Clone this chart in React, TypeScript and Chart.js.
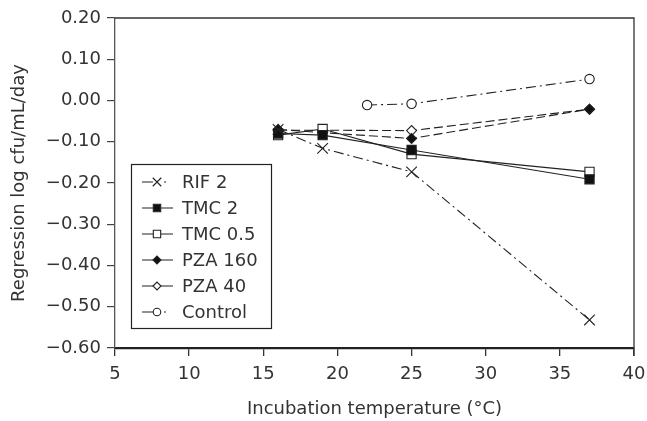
import React, { useEffect, useRef } from "react";
import { Chart, registerables } from "chart.js";
import { drawPoint } from "chart.js/helpers";

Chart.register(...registerables);

const temperatures = [16, 19, 25, 37];
const controlTemperatures = [22, 25, 37];
const rif2 = [-0.07, -0.116, -0.173, -0.532];
const tmc2 = [-0.08, -0.084, -0.12, -0.191];
const tmc05 = [-0.084, -0.069, -0.13, -0.173];
const pza160 = [-0.07, -0.078, -0.092, -0.021];
const pza40 = [-0.072, -0.072, -0.073, -0.021];
const control = [-0.011, -0.008, 0.052];

const seriesLabels = ["RIF 2", "TMC 2", "TMC 0.5", "PZA 160", "PZA 40", "Control"];
const xTicks = { min: 5, max: 40, step: 5 };
const yTicks = { min: -0.6, max: 0.2, step: 0.1 };
const xTitle = "Incubation temperature (°C)";
const yTitle = "Regression log cfu/mL/day";

const FONT = "'DejaVu Sans', 'Noto Sans', sans-serif";
const FS = 18;
const TEXT = "#333";
const DASH_DOT = [10, 4, 2, 4];
const DASHED = [9, 4];

function pts(xs: number[], ys: number[]) {
  return xs.map((x, i) => ({ x, y: ys[i] }));
}

const legendPlugin = {
  id: "boxLegend",
  afterDraw(chart: any) {
    const ctx = chart.ctx;
    const x0 = 131, y0 = 164, w = 140, h = 164;
    ctx.save();
    ctx.fillStyle = "#fff";
    ctx.fillRect(x0, y0, w, h);
    ctx.strokeStyle = "#222";
    ctx.lineWidth = 1.2;
    ctx.setLineDash([]);
    ctx.strokeRect(x0 + 0.5, y0 + 0.5, w, h);
    chart.data.datasets.forEach((ds: any, i: number) => {
      const y = 182 + i * 26;
      const dashDot = (ds.borderDash || []).length === 4;
      ctx.save();
      ctx.strokeStyle = "#222";
      ctx.lineWidth = 1.1;
      ctx.setLineDash([]);
      ctx.beginPath();
      ctx.moveTo(142, y);
      ctx.lineTo(153, y);
      if (dashDot) {
        ctx.moveTo(164, y);
        ctx.lineTo(166, y);
      } else {
        ctx.moveTo(161, y);
        ctx.lineTo(173, y);
      }
      ctx.stroke();
      ctx.fillStyle = ds.pointBackgroundColor;
      ctx.strokeStyle = "#222";
      ctx.lineWidth = 1.1;
      drawPoint(ctx, { pointStyle: ds.pointStyle, radius: ds.pointRadius * 0.8, borderWidth: 1.1, rotation: 0 } as any, 157, y);
      ctx.restore();
      ctx.fillStyle = TEXT;
      ctx.font = `${FS}px ${FONT}`;
      ctx.textBaseline = "middle";
      ctx.textAlign = "left";
      ctx.fillText(ds.label, 182, y + 1);
    });
    ctx.restore();
  },
};

const framePlugin = {
  id: "frame",
  afterDraw(chart: any) {
    const { ctx, chartArea } = chart;
    ctx.save();
    ctx.strokeStyle = "#333";
    ctx.lineWidth = 1.3;
    ctx.setLineDash([]);
    ctx.beginPath();
    ctx.moveTo(chartArea.left, chartArea.top);
    ctx.lineTo(chartArea.right, chartArea.top);
    ctx.lineTo(chartArea.right, chartArea.bottom + 8);
    ctx.stroke();
    ctx.restore();
  },
};

export default function App() {
  const ref = useRef<HTMLCanvasElement | null>(null);
  useEffect(() => {
    if (!ref.current) return;
    const common = {
      borderColor: "#222",
      borderWidth: 1.1,
      pointBorderColor: "#222",
      pointBorderWidth: 1.1,
      showLine: true,
      fill: false,
      tension: 0,
    };
    const chart = new Chart(ref.current, {
      type: "scatter",
      data: {
        datasets: [
          { ...common, label: seriesLabels[0], data: pts(temperatures, rif2), borderDash: DASH_DOT, pointStyle: "crossRot", pointRadius: 7.5, pointBackgroundColor: "#fff" },
          { ...common, label: seriesLabels[1], data: pts(temperatures, tmc2), borderDash: [], pointStyle: "rect", pointRadius: 6.5, pointBackgroundColor: "#111" },
          { ...common, label: seriesLabels[2], data: pts(temperatures, tmc05), borderDash: [], pointStyle: "rect", pointRadius: 6.5, pointBackgroundColor: "#fff" },
          { ...common, label: seriesLabels[3], data: pts(temperatures, pza160), borderDash: DASHED, pointStyle: "rectRot", pointRadius: 5, pointBackgroundColor: "#111" },
          { ...common, label: seriesLabels[4], data: pts(temperatures, pza40), borderDash: DASHED, pointStyle: "rectRot", pointRadius: 5, pointBackgroundColor: "#fff" },
          { ...common, label: seriesLabels[5], data: pts(controlTemperatures, control), borderDash: DASH_DOT, pointStyle: "circle", pointRadius: 4.7, pointBackgroundColor: "#fff" },
        ] as any,
      },
      options: {
        animation: false,
        responsive: true,
        maintainAspectRatio: false,
        layout: { padding: { top: 18, right: 0, left: 0, bottom: 0 } },
        plugins: { legend: { display: false }, tooltip: { enabled: false } },
        scales: {
          x: {
            type: "linear",
            min: xTicks.min,
            max: xTicks.max,
            ticks: { stepSize: xTicks.step, color: TEXT, font: { family: FONT, size: FS }, padding: 8, maxRotation: 0 },
            grid: { drawOnChartArea: false, drawTicks: true, tickLength: 8, color: "#333", lineWidth: 1.3 },
            border: { display: true, color: "#222", width: 2.2 },
            title: { display: true, text: xTitle, color: TEXT, font: { family: FONT, size: FS }, padding: { top: 4, bottom: 1 } },
            afterFit(scale: any) {
              scale.height = 73;
              scale.paddingRight = 13;
              scale.paddingLeft = 0;
            },
          },
          y: {
            type: "linear",
            min: yTicks.min,
            max: yTicks.max,
            ticks: {
              stepSize: yTicks.step,
              color: TEXT,
              font: { family: FONT, size: FS },
              padding: 6,
              callback: (v: any) => Number(v).toFixed(2).replace("-", "\u2212"),
            },
            grid: { drawOnChartArea: false, drawTicks: true, tickLength: 8, color: "#444", lineWidth: 1.2 },
            border: { display: true, color: "#555", width: 1.3 },
            title: { display: true, text: yTitle, color: TEXT, font: { family: FONT, size: FS }, padding: { top: 9, bottom: 0 } },
            afterFit(scale: any) { scale.width = 115; },
          },
        },
      } as any,
      plugins: [framePlugin, legendPlugin],
    });
    return () => chart.destroy();
  }, []);
  return (
    <div style={{ position: "absolute", left: 0, top: 0, width: 647, height: 421, background: "#fff" }}>
      <canvas ref={ref} />
    </div>
  );
}
